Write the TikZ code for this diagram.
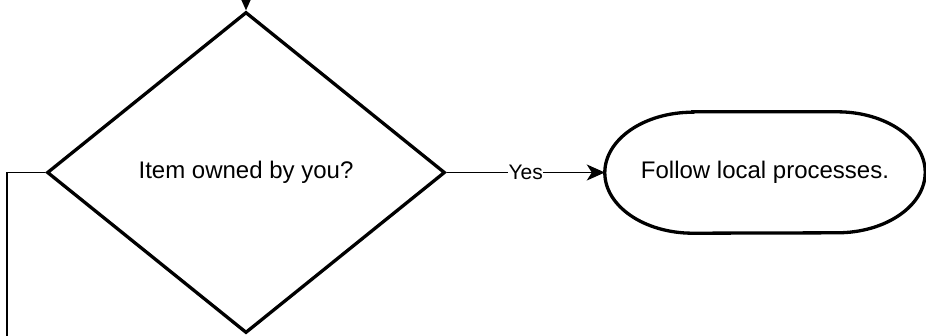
\documentclass[tikz,border=0pt]{standalone}
\usepackage{fontspec}
\setmainfont{Liberation Sans}
\usetikzlibrary{shapes.geometric,arrows.meta}
\begin{document}
\begin{tikzpicture}[x=1pt,y=-1pt,
  shapeline/.style={line width=3.3pt,line join=miter},
  conn/.style={line width=1.8pt},
  arr/.style={conn,-{Stealth[length=18pt,width=16pt,inset=5pt]}},
  maintext/.style={font=\fontsize{24}{28}\selectfont},
  lbl/.style={font=\fontsize{21}{25}\selectfont,fill=white,inner sep=0.5pt}]
\useasboundingbox (0,0) rectangle (926,335);
\node[draw,shapeline,diamond,minimum width=398pt,minimum height=321pt,inner sep=0pt,maintext] (d) at (246,172.5) {Item owned by you?};
\node[rectangle,minimum width=320pt,minimum height=121pt,inner sep=0pt,maintext] (s) at (765,172.5) {Follow local processes.};
\draw[shapeline] ([xshift=88pt]s.north west) -- ([xshift=-88pt]s.north east)
  arc[start angle=90,end angle=-90,x radius=88pt,y radius=60.5pt]
  -- ([xshift=88pt]s.south west)
  arc[start angle=270,end angle=90,x radius=88pt,y radius=60.5pt] -- cycle;
\coordinate (topin) at (246,-8);
\coordinate (lcorner) at (7,172.5);
\coordinate (lend) at (7,345);
\draw[arr] (topin) -- (d.north);
\draw[conn] (d.west) -- (lcorner) -- (lend);
\draw[arr] (d.east) -- node[lbl] {Yes} (s.west);
\end{tikzpicture}
\end{document}
